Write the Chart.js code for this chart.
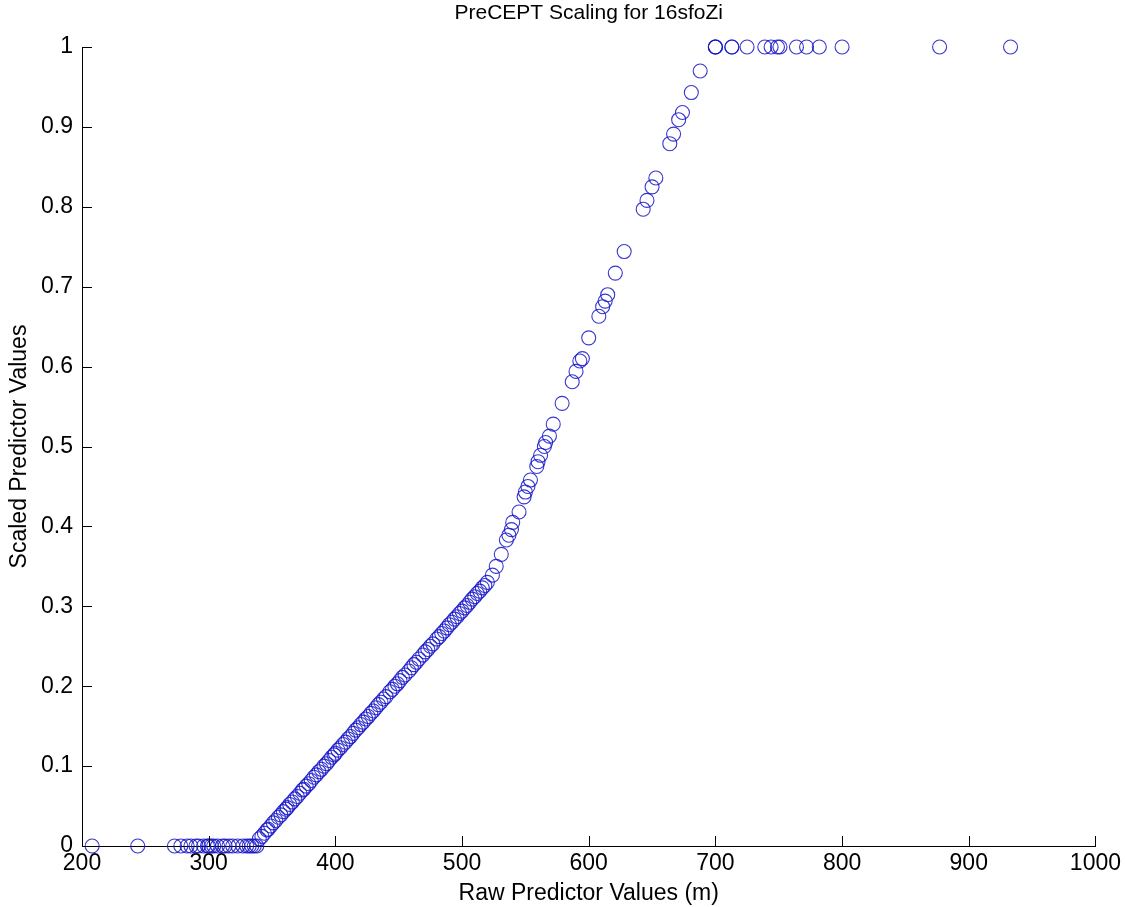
<!DOCTYPE html>
<html>
<head>
    <title>PreCEPT Scaling for 16sfoZi</title>
    <script src="https://cdn.jsdelivr.net/npm/chart.js@4.4.1/dist/chart.umd.min.js"></script>
    <style>
        body { margin: 0; background: #fff; }
        #wrap { width: 1125px; height: 907px; }
    </style>
</head>
<body>
    <div id="wrap"><canvas id="chartCanvas"></canvas></div>

    <script>
        // raw predictor values (m) and their scaled values
        const rawValues = [
            208, 244, 273, 278, 283, 286, 290, 292, 296, 299, 300, 302, 304, 307, 311, 313, 316, 319, 323, 327, 330, 332, 334, 336, 338,
            340, 342, 344, 346, 347, 349, 351, 353, 355, 357, 359, 361, 362, 364, 366, 368, 370, 372, 374, 375, 377, 379, 381, 383, 385,
            387, 389, 391, 393, 395, 397, 399, 400, 402, 404, 406, 408, 410, 412, 414, 416, 418, 420, 422, 424, 426, 428, 430, 432, 434,
            436, 438, 440, 443, 445, 447, 449, 451, 453, 455, 458, 460, 462, 464, 466, 469, 471, 473, 475, 477, 480, 482, 484, 486, 488,
            490, 492, 494, 496, 498, 500, 502, 504, 506, 508, 510, 512, 514, 516, 518, 520,
            524, 527, 531, 535, 537, 539, 540, 545, 549, 550, 552, 554, 559, 560, 562, 565, 566, 569, 572, 579, 587, 590, 593, 595, 600,
            608, 611, 613, 615, 621, 628, 643, 646, 650, 653, 664, 667, 671, 674, 681, 688,
            700, 700, 700, 713, 713, 725, 739, 744, 749, 751, 764, 772, 782, 800, 877, 933
        ];
        const scaledValues = [
            0, 0, 0, 0, 0, 0, 0, 0, 0, 0, 0, 0, 0, 0, 0, 0, 0, 0, 0, 0, 0, 0, 0, 0, 0,
            0.009, 0.012, 0.016, 0.020, 0.021, 0.025, 0.029, 0.032, 0.036, 0.039, 0.043, 0.046, 0.048, 0.052, 0.055, 0.059, 0.062, 0.066, 0.070, 0.071, 0.075, 0.078, 0.082, 0.086, 0.089,
            0.093, 0.096, 0.100, 0.103, 0.107, 0.111, 0.114, 0.116, 0.120, 0.123, 0.127, 0.130, 0.134, 0.137, 0.141, 0.145, 0.148, 0.152, 0.155, 0.159, 0.162, 0.166, 0.169, 0.173, 0.177,
            0.180, 0.184, 0.187, 0.193, 0.196, 0.200, 0.203, 0.207, 0.211, 0.214, 0.219, 0.223, 0.227, 0.230, 0.234, 0.239, 0.243, 0.246, 0.250, 0.253, 0.259, 0.262, 0.266, 0.269, 0.273,
            0.277, 0.280, 0.284, 0.287, 0.291, 0.294, 0.298, 0.301, 0.305, 0.309, 0.312, 0.316, 0.319, 0.323, 0.326, 0.330,
            0.339, 0.350, 0.365, 0.383, 0.389, 0.396, 0.405, 0.418, 0.437, 0.443, 0.450, 0.458, 0.475, 0.481, 0.489, 0.500, 0.505, 0.513, 0.528, 0.554, 0.581, 0.594, 0.607, 0.610, 0.636,
            0.663, 0.675, 0.682, 0.690, 0.717, 0.744, 0.797, 0.808, 0.825, 0.836, 0.879, 0.891, 0.909, 0.918, 0.943, 0.970,
            1, 1, 1, 1, 1, 1, 1, 1, 1, 1, 1, 1, 1, 1, 1, 1
        ];
        const xTicks = [200, 300, 400, 500, 600, 700, 800, 900, 1000];
        const yTicks = [0, 0.1, 0.2, 0.3, 0.4, 0.5, 0.6, 0.7, 0.8, 0.9, 1];

        const points = rawValues.map((x, i) => ({ x: x, y: scaledValues[i] }));

        // short tick marks pointing into the plot, like the old matlab axes
        const innerTicks = {
            id: 'innerTicks',
            afterDraw(chart) {
                const ctx = chart.ctx;
                const xs = chart.scales.x;
                const ys = chart.scales.y;
                const len = 10;
                ctx.save();
                ctx.strokeStyle = '#000';
                ctx.lineWidth = 1;
                ctx.beginPath();
                xTicks.forEach(v => {
                    const px = Math.round(xs.getPixelForValue(v)) + 0.5;
                    ctx.moveTo(px, ys.bottom);
                    ctx.lineTo(px, ys.bottom - len);
                });
                yTicks.forEach(v => {
                    const py = Math.round(ys.getPixelForValue(v)) + 0.5;
                    ctx.moveTo(xs.left, py);
                    ctx.lineTo(xs.left + len, py);
                });
                ctx.stroke();
                ctx.restore();
            }
        };

        const family = '"Liberation Sans", Arial, sans-serif';
        const font = { family: family, size: 23 };

        const ctx = document.getElementById('chartCanvas').getContext('2d');
        const chart = new Chart(ctx, {
            type: 'scatter',
            data: {
                datasets: [{
                    data: points,
                    xAxisID: 'x',
                    yAxisID: 'y',
                    pointStyle: 'circle',
                    pointRadius: 7,
                    pointBorderWidth: 1.1,
                    borderColor: 'rgba(20, 20, 200, 0.85)',
                    backgroundColor: 'rgba(0, 0, 0, 0)',
                    clip: false
                }]
            },
            options: {
                responsive: true,
                maintainAspectRatio: false,
                animation: false,
                layout: { padding: { left: 0, right: 29, top: 0, bottom: 0 } },
                plugins: {
                    legend: { display: false },
                    tooltip: { enabled: false }
                },
                scales: {
                    // empty top axis, only carries the title centred over the plot
                    top: {
                        type: 'linear',
                        position: 'top',
                        min: 200,
                        max: 1000,
                        afterFit: s => { s.height = 47; },
                        grid: { display: false },
                        border: { display: false },
                        ticks: { display: false },
                        title: {
                            display: true,
                            text: 'PreCEPT Scaling for 16sfoZi',
                            color: '#000',
                            font: { family: family, size: 21 },
                            padding: { top: 1, bottom: 0 }
                        }
                    },
                    x: {
                        type: 'linear',
                        position: 'bottom',
                        min: 200,
                        max: 1000,
                        afterBuildTicks: s => { s.ticks = xTicks.map(v => ({ value: v })); },
                        afterFit: s => { s.height = 61; },
                        grid: { drawOnChartArea: false, drawTicks: false },
                        border: { display: true, color: '#000', width: 1 },
                        ticks: { color: '#000', font: font, padding: 4, maxRotation: 0, callback: v => String(v) },
                        title: {
                            display: true,
                            text: 'Raw Predictor Values (m)',
                            color: '#000',
                            font: font,
                            padding: { top: 0, bottom: 0 }
                        }
                    },
                    y: {
                        type: 'linear',
                        min: 0,
                        max: 1,
                        afterBuildTicks: s => { s.ticks = yTicks.map(v => ({ value: v })); },
                        afterFit: s => { s.width = 82; },
                        grid: { drawOnChartArea: false, drawTicks: false },
                        border: { display: true, color: '#000', width: 1 },
                        ticks: { color: '#000', font: font, padding: 9, callback: v => String(v) },
                        title: {
                            display: true,
                            text: 'Scaled Predictor Values',
                            color: '#000',
                            font: font,
                            padding: { top: 6, bottom: 0 }
                        }
                    }
                }
            },
            plugins: [innerTicks]
        });
    </script>
</body>
</html>
